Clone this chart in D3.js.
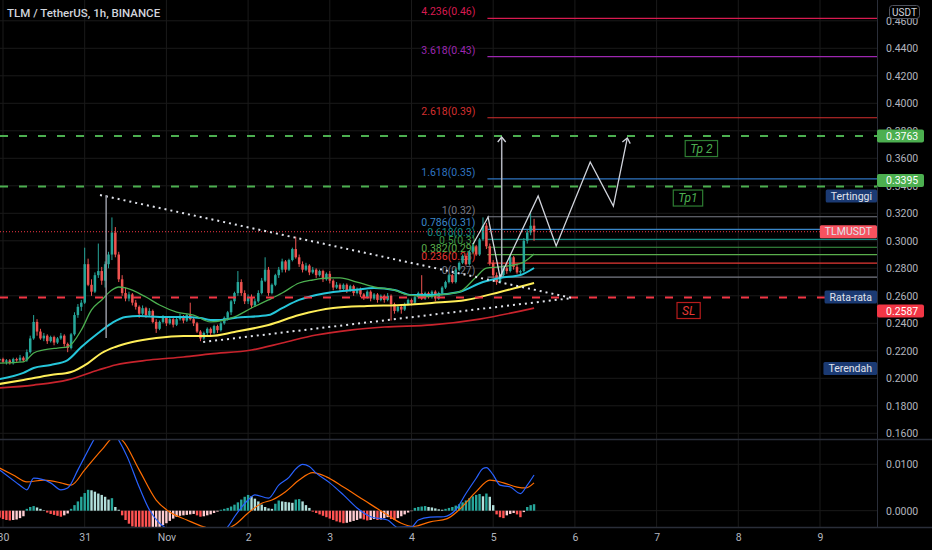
<!DOCTYPE html>
<html>
<head>
<meta charset="utf-8">
<script src="https://d3js.org/d3.v7.min.js"></script>
<style>
  body { margin: 0; background: #000; }
  svg { display: block; font-family: Roboto, "Noto Sans", sans-serif; }
</style>
</head>
<body>
<script>
// hour 0 = 30 Oct 00:00, one candle per hour
const firstHour = -1;
// [open, high, low, close]
const candles = [
  [0.213,0.215,0.211,0.214],[0.214,0.215,0.211,0.212],[0.212,0.214,0.210,0.213],[0.213,0.214,0.210,0.211],
  [0.211,0.215,0.210,0.214],[0.214,0.215,0.212,0.213],[0.213,0.217,0.212,0.215],[0.215,0.216,0.212,0.213],
  [0.213,0.221,0.212,0.219],[0.219,0.231,0.218,0.229],[0.229,0.246,0.228,0.241],[0.241,0.243,0.231,0.234],
  [0.234,0.236,0.228,0.229],[0.229,0.233,0.227,0.231],[0.231,0.232,0.225,0.227],[0.227,0.231,0.226,0.230],
  [0.230,0.231,0.224,0.226],[0.226,0.230,0.225,0.229],[0.229,0.233,0.228,0.231],[0.231,0.232,0.223,0.225],
  [0.225,0.226,0.219,0.222],[0.222,0.233,0.221,0.232],[0.232,0.248,0.231,0.246],[0.246,0.254,0.244,0.252],
  [0.252,0.257,0.249,0.255],[0.255,0.295,0.254,0.283],[0.283,0.287,0.267,0.268],[0.268,0.272,0.260,0.263],
  [0.263,0.277,0.262,0.275],[0.275,0.298,0.273,0.278],[0.278,0.281,0.268,0.271],[0.271,0.285,0.266,0.283],
  [0.283,0.292,0.280,0.290],[0.290,0.317,0.286,0.306],[0.306,0.310,0.288,0.290],[0.290,0.292,0.270,0.272],
  [0.272,0.275,0.260,0.262],[0.262,0.266,0.256,0.258],[0.258,0.263,0.256,0.261],[0.261,0.262,0.253,0.255],
  [0.255,0.257,0.250,0.252],[0.252,0.253,0.244,0.247],[0.247,0.253,0.246,0.251],[0.251,0.252,0.244,0.246],
  [0.246,0.251,0.245,0.249],[0.249,0.250,0.240,0.241],[0.241,0.243,0.233,0.236],[0.236,0.242,0.235,0.241],
  [0.241,0.246,0.240,0.244],[0.244,0.245,0.238,0.240],[0.240,0.244,0.239,0.243],[0.243,0.244,0.237,0.239],
  [0.239,0.244,0.238,0.243],[0.243,0.247,0.242,0.245],[0.245,0.246,0.240,0.242],[0.242,0.247,0.241,0.246],
  [0.246,0.255,0.242,0.243],[0.243,0.244,0.238,0.240],[0.240,0.241,0.233,0.234],[0.234,0.235,0.227,0.229],
  [0.229,0.234,0.228,0.233],[0.233,0.237,0.231,0.236],[0.236,0.237,0.231,0.233],[0.233,0.239,0.232,0.238],
  [0.238,0.239,0.233,0.235],[0.235,0.241,0.234,0.240],[0.240,0.245,0.239,0.244],[0.244,0.249,0.242,0.248],
  [0.248,0.257,0.246,0.256],[0.256,0.263,0.254,0.262],[0.262,0.278,0.260,0.270],[0.270,0.272,0.260,0.262],
  [0.262,0.264,0.254,0.256],[0.256,0.261,0.254,0.259],[0.259,0.261,0.251,0.253],[0.253,0.258,0.252,0.256],
  [0.256,0.264,0.255,0.262],[0.262,0.273,0.261,0.271],[0.271,0.288,0.270,0.279],[0.279,0.281,0.260,0.262],
  [0.262,0.269,0.261,0.268],[0.268,0.276,0.267,0.275],[0.275,0.281,0.273,0.279],[0.279,0.287,0.277,0.285],
  [0.285,0.286,0.277,0.279],[0.279,0.287,0.278,0.286],[0.286,0.295,0.285,0.294],[0.294,0.303,0.287,0.288],
  [0.288,0.290,0.281,0.283],[0.283,0.285,0.277,0.279],[0.279,0.284,0.278,0.282],[0.282,0.283,0.275,0.277],
  [0.277,0.281,0.276,0.279],[0.279,0.280,0.273,0.275],[0.275,0.279,0.274,0.278],[0.278,0.279,0.270,0.272],
  [0.272,0.277,0.271,0.276],[0.276,0.278,0.269,0.271],[0.271,0.272,0.264,0.266],[0.266,0.270,0.265,0.268],
  [0.268,0.269,0.263,0.265],[0.265,0.269,0.264,0.268],[0.268,0.269,0.262,0.264],[0.264,0.268,0.263,0.267],
  [0.267,0.268,0.260,0.262],[0.262,0.266,0.261,0.265],[0.265,0.266,0.259,0.261],[0.261,0.262,0.257,0.259],
  [0.259,0.264,0.258,0.263],[0.263,0.264,0.256,0.258],[0.258,0.262,0.257,0.261],[0.261,0.262,0.255,0.257],
  [0.257,0.261,0.256,0.260],[0.260,0.261,0.255,0.257],[0.257,0.262,0.256,0.260],[0.260,0.261,0.242,0.254],
  [0.254,0.255,0.247,0.249],[0.249,0.253,0.248,0.252],[0.252,0.253,0.247,0.250],[0.250,0.255,0.249,0.254],
  [0.254,0.258,0.253,0.257],[0.257,0.258,0.253,0.255],[0.255,0.260,0.254,0.259],[0.259,0.263,0.258,0.262],
  [0.262,0.275,0.257,0.258],[0.258,0.263,0.257,0.262],[0.262,0.263,0.258,0.259],[0.259,0.264,0.258,0.263],
  [0.263,0.264,0.256,0.258],[0.258,0.263,0.257,0.262],[0.262,0.267,0.261,0.266],[0.266,0.271,0.265,0.270],
  [0.270,0.276,0.269,0.275],[0.275,0.276,0.269,0.270],[0.270,0.280,0.269,0.279],[0.279,0.285,0.278,0.284],
  [0.284,0.290,0.283,0.289],[0.289,0.290,0.282,0.283],[0.283,0.293,0.282,0.292],[0.292,0.298,0.291,0.296],
  [0.296,0.297,0.289,0.290],[0.290,0.302,0.289,0.301],[0.301,0.317,0.300,0.311],[0.311,0.313,0.294,0.296],
  [0.296,0.298,0.282,0.284],[0.284,0.286,0.273,0.275],[0.275,0.277,0.268,0.270],[0.270,0.276,0.269,0.275],
  [0.275,0.282,0.273,0.280],[0.280,0.284,0.276,0.278],[0.278,0.290,0.277,0.288],[0.288,0.289,0.279,0.281],
  [0.281,0.283,0.276,0.277],[0.277,0.279,0.275,0.278],[0.278,0.302,0.277,0.300],[0.300,0.308,0.298,0.306],
  [0.306,0.320,0.304,0.311],[0.311,0.316,0.300,0.3066]
];

// moving averages: [hour, price]
const ma20 = [[-1,0.2111],[6,0.2119],[9,0.2184],[12,0.2206],[16,0.2220],[19,0.2228],[23,0.2351],[26,0.2497],
  [29,0.2570],[32,0.2642],[34,0.2664],[36,0.2657],[42,0.2591],[46,0.2533],[51,0.2482],[56,0.2460],[61,0.2410],
  [68,0.2446],[73,0.2511],[78,0.2570],[82,0.2620],[87,0.2693],[91,0.2715],[96,0.2730],[99,0.2730],[104,0.2700],
  [109,0.2664],[115,0.2642],[119,0.2606],[125,0.2595],[128,0.2606],[134,0.2628],[139,0.2737],[142,0.2802],
  [146,0.2810],[150,0.2824],[153,0.2846],[156,0.2904]];
const ma50 = [[-1,0.1995],[6,0.2039],[9,0.2075],[14,0.2097],[19,0.2133],[23,0.2228],[28,0.2330],[32,0.2402],
  [36,0.2446],[40,0.2453],[46,0.2446],[53,0.2446],[58,0.2439],[61,0.2424],[64,0.2424],[68,0.2439],[78,0.2460],
  [82,0.2511],[87,0.2570],[92,0.2606],[97,0.2628],[103,0.2642],[109,0.2657],[115,0.2642],[120,0.2606],
  [126,0.2606],[134,0.2628],[141,0.2700],[146,0.2730],[152,0.2751],[156,0.2802]];
const ma100 = [[-1,0.1959],[6,0.1988],[14,0.2024],[20,0.2046],[25,0.2111],[29,0.2184],[33,0.2228],[38,0.2264],
  [45,0.2293],[53,0.2308],[61,0.2308],[68,0.2337],[78,0.2388],[87,0.2460],[97,0.2511],[107,0.2526],[117,0.2533],
  [126,0.2548],[136,0.2570],[146,0.2628],[156,0.2693]];
const ma200 = [[-1,0.1930],[9,0.1951],[19,0.1988],[28,0.2060],[33,0.2097],[43,0.2133],[53,0.2155],[61,0.2177],
  [73,0.2206],[82,0.2257],[92,0.2315],[102,0.2351],[112,0.2373],[126,0.2388],[140,0.2431],[156,0.2511]];

// MACD pane
const macdHist = [
  -0.0015,-0.0018,-0.0020,-0.0021,-0.0020,-0.0019,-0.0016,-0.0012,
  0.0004,0.0008,0.0010,0.0007,0.0004,0.0001,
  -0.0004,-0.0007,-0.0009,-0.0011,-0.0013,-0.0010,-0.0006,
  0.0004,0.0012,0.0020,0.0030,0.0038,0.0045,0.0044,0.0041,0.0037,0.0034,0.0030,0.0024,0.0027,0.0008,0.0002,
  -0.0010,-0.0020,-0.0028,-0.0034,-0.0037,-0.0039,-0.0040,-0.0041,-0.0042,
  -0.0040,-0.0038,-0.0035,-0.0031,-0.0027,-0.0022,-0.0017,-0.0013,-0.0011,-0.0010,-0.0009,-0.0008,-0.0007,
  -0.0010,-0.0013,-0.0012,-0.0010,-0.0008,-0.0005,-0.0002,
  0.0002,0.0004,0.0006,0.0009,0.0013,0.0018,0.0024,0.0030,0.0034,
  0.0031,0.0026,0.0020,0.0013,0.0008,0.0005,0.0004,
  0.0015,0.0022,0.0020,0.0019,0.0018,0.0017,0.0024,0.0025,0.0020,0.0012,0.0006,
  -0.0002,-0.0005,-0.0008,-0.0011,-0.0014,-0.0017,-0.0020,-0.0023,-0.0025,-0.0027,
  -0.0026,-0.0024,-0.0022,-0.0020,-0.0017,-0.0019,-0.0021,-0.0020,-0.0018,-0.0020,-0.0019,-0.0016,-0.0014,
  -0.0018,-0.0020,-0.0016,-0.0012,-0.0008,-0.0004,-0.0001,
  0.0006,0.0008,0.0009,0.0010,0.0008,0.0007,0.0005,0.0003,0.0002,
  0.0004,0.0006,0.0008,0.0011,0.0014,0.0018,0.0022,0.0027,0.0031,0.0034,0.0036,0.0031,0.0037,0.0030,0.0012,
  -0.0008,-0.0014,-0.0016,-0.0010,-0.0007,-0.0005,-0.0008,-0.0014,-0.0003,0.0008,0.0012,0.0014
];
const macdLine = [[-1,0.0088],[4,0.0060],[6,0.0049],[7,0.0045],[9,0.0070],[14,0.0060],[17,0.0045],[19,0.0049],
  [22,0.0088],[24,0.0116],[27,0.0157],[30,0.0190],[34,0.0152],[36.5,0.0116],[40,0.0051],[43,0.0002],[46,-0.0027],
  [48,-0.0038],[53,-0.0052],[58,-0.0056],[63,-0.0048],[66,-0.0035],[68,-0.0013],[72,0.0023],[74,0.0034],
  [78,0.0027],[81,0.0055],[84,0.0072],[86,0.0090],[88,0.0100],[90,0.0095],[92,0.0081],[96,0.0060],[100,0.0034],
  [104,0.0006],[108,-0.0013],[113,-0.0020],[116,-0.0036],[120,-0.0035],[122,-0.0020],[125.5,-0.0014],
  [129.5,-0.0013],[133,0.0002],[136,0.0037],[139,0.0070],[141,0.0091],[142,0.0093],[144,0.0077],[146,0.0055],
  [149,0.0051],[152,0.0037],[154,0.0055],[156,0.0077]];
const signalLine = [[-1,0.0092],[3,0.0077],[7,0.0062],[12,0.0066],[17,0.0060],[20,0.0055],[24,0.0088],
  [29,0.0131],[33,0.0160],[35,0.0152],[40,0.0088],[45,0.0023],[49,-0.0003],[54,-0.0020],[59,-0.0035],
  [64,-0.0042],[68,-0.0031],[72,-0.0005],[76,0.0016],[79,0.0023],[83,0.0041],[87,0.0066],[91,0.0082],
  [95,0.0073],[100,0.0051],[106,0.0023],[112,-0.0005],[117,-0.0027],[120.5,-0.0034],[125.5,-0.0024],
  [130.5,-0.0017],[134,0.0002],[139,0.0041],[143,0.0066],[147,0.0060],[151,0.0051],[153.5,0.0049],[156,0.0060]];

// fibonacci drawing
const fibStartHour = 142.3;
const fibLabels = ['4.236(0.46)','3.618(0.43)','2.618(0.39)','1.618(0.35)','1(0.32)','0.786(0.31)',
  '0.618(0.3)','0.5(0.3)','0.382(0.29)','0.236(0.28)','0(0.27)'];
const fibPrices = [0.4618,0.4339,0.3895,0.3450,0.3175,0.3083,0.3011,0.2953,0.2899,0.2837,0.2736];

// horizontal target / stop levels
const tpLevels = [0.3763, 0.3395];
const slLevel = 0.2587;
const lastPrice = 0.3066;

// other drawings: [hour, price]
const upperTrend = [[28.5,0.3333],[167.2,0.2584]];
const lowerTrend = [[58.8,0.2264],[167.2,0.2584]];
const spikeLine = [[30.3,0.3333],[30.3,0.2293]];
const zigzag = [[138.1,0.2977],[142.5,0.3173],[146.0,0.2737],[157.2,0.3326],[162.5,0.2962],
  [172.5,0.3573],[179.3,0.3253],[183.4,0.3748]];
const tpArrow = [[146.5,0.2737],[146.5,0.3755]];
const noteTexts = ['Tp 2','Tp1','SL'];
const noteHours = [200.4,196.9,198.0];
const notePrices = [0.3671,0.3311,0.2493];

// axis labels
const priceTicks = [0.46,0.44,0.42,0.40,0.38,0.36,0.34,0.32,0.30,0.28,0.26,0.24,0.22,0.20,0.18,0.16];
const macdTicks = [0.01, 0];
const dayHours = [0,24,48,72,96,120,144,168,192,216,240];
const dayLabels = ['30','31','Nov','2','3','4','5','6','7','8','9'];
const sideTags = ['Tertinggi','Rata-rata','Terendah'];
const sideTagPrices = [0.3326,0.2591,0.2071];

const W = 932, H = 550;
const axisX = 877;
const mainBottom = 439, macdTop = 440, macdBottom = 527;
const grid = '#1a1a1a', textCol = '#b2b5be';
const upCol = '#26a69a', downCol = '#ef5350';
const fibColors = ['#d81b50','#9c27b0','#d32f2f','#2f74c0','#787b86','#3a86c8','#138a84','#3e9b47','#5aae4c','#e53935','#787b86'];
const noteColors = ['#4caf50','#4caf50','#e53935'];
const noteBorders = ['#2e7d32','#2e7d32','#b71c1c'];

const x = d3.scaleLinear().domain([0, 240]).range([3, 820]);
const y = d3.scaleLinear().domain([0.16, 0.46]).range([433.3, 20.8]);
const ym = d3.scaleLinear().domain([0, 0.01]).range([510.7, 464.3]);

const svg = d3.select('body').append('svg').attr('width', W).attr('height', H);
svg.append('rect').attr('width', W).attr('height', H).attr('fill', '#000');

const defs = svg.append('defs');
defs.append('clipPath').attr('id', 'mainClip').append('rect')
  .attr('x', 0).attr('y', 0).attr('width', axisX).attr('height', mainBottom);
defs.append('clipPath').attr('id', 'macdClip').append('rect')
  .attr('x', 0).attr('y', macdTop).attr('width', axisX).attr('height', macdBottom - macdTop);
defs.append('marker').attr('id', 'arrowHead')
  .attr('viewBox', '-6 -6 12 12').attr('markerUnits', 'userSpaceOnUse')
  .attr('markerWidth', 12).attr('markerHeight', 12).attr('orient', 'auto')
  .append('path').attr('d', 'M-5,-4L0,0L-5,4').attr('fill', 'none')
  .attr('stroke', '#d1d4dc').attr('stroke-width', 1.3);

// grid
const gGrid = svg.append('g');
gGrid.selectAll('.vg').data(dayHours).join('line')
  .attr('x1', d => x(d)).attr('x2', d => x(d)).attr('y1', 0).attr('y2', macdBottom)
  .attr('stroke', grid);
gGrid.selectAll('.hg').data(priceTicks).join('line')
  .attr('x1', 0).attr('x2', axisX).attr('y1', d => y(d)).attr('y2', d => y(d))
  .attr('stroke', grid);
gGrid.selectAll('.mg').data(macdTicks).join('line')
  .attr('x1', 0).attr('x2', axisX).attr('y1', d => ym(d)).attr('y2', d => ym(d))
  .attr('stroke', grid);

const main = svg.append('g').attr('clip-path', 'url(#mainClip)');

// fibonacci levels and labels (sit under the candles)
fibPrices.forEach((p, i) => {
  main.append('line').attr('x1', x(fibStartHour)).attr('x2', axisX)
    .attr('y1', y(p)).attr('y2', y(p)).attr('stroke', fibColors[i]).attr('stroke-width', 1.2);
  main.append('text').attr('x', x(fibStartHour) - 12).attr('y', y(p) - 3)
    .attr('text-anchor', 'end').attr('font-size', 10.5).attr('fill', fibColors[i]).text(fibLabels[i]);
});

// candles
const cData = candles.map((c, i) => ({ h: firstHour + i, o: c[0], hi: c[1], lo: c[2], c: c[3] }));
const gC = main.append('g');
gC.selectAll('line').data(cData).join('line')
  .attr('x1', d => x(d.h)).attr('x2', d => x(d.h))
  .attr('y1', d => y(d.hi)).attr('y2', d => y(d.lo))
  .attr('stroke', d => d.c >= d.o ? upCol : downCol).attr('stroke-width', 1);
gC.selectAll('rect').data(cData).join('rect')
  .attr('x', d => x(d.h) - 1.25).attr('width', 2.5)
  .attr('y', d => y(Math.max(d.o, d.c)))
  .attr('height', d => Math.max(1, Math.abs(y(d.o) - y(d.c))))
  .attr('fill', d => d.c >= d.o ? upCol : downCol);

// moving averages
const priceLine = d3.line().x(d => x(d[0])).y(d => y(d[1])).curve(d3.curveMonotoneX);
[[ma200, '#c8232c', 1.7], [ma100, '#ffee58', 2], [ma50, '#26c6da', 2], [ma20, '#4caf50', 1.3]]
  .forEach(([data, col, w]) => {
    main.append('path').datum(data).attr('d', priceLine)
      .attr('fill', 'none').attr('stroke', col).attr('stroke-width', w);
  });

// target / stop dashed lines
const straight = d3.line().x(d => x(d[0])).y(d => y(d[1]));
tpLevels.forEach(p => {
  main.append('line').attr('x1', 0).attr('x2', axisX).attr('y1', y(p)).attr('y2', y(p))
    .attr('stroke', '#4caf50').attr('stroke-width', 2).attr('stroke-dasharray', '8,11');
});
main.append('line').attr('x1', 0).attr('x2', axisX).attr('y1', y(slLevel)).attr('y2', y(slLevel))
  .attr('stroke', '#f23645').attr('stroke-width', 2).attr('stroke-dasharray', '8,11');

// current price line
main.append('line').attr('x1', 0).attr('x2', axisX).attr('y1', y(lastPrice)).attr('y2', y(lastPrice))
  .attr('stroke', '#f23645').attr('stroke-width', 1).attr('stroke-dasharray', '1,2');

// trend lines and projection
[upperTrend, lowerTrend].forEach(t => {
  main.append('path').datum(t).attr('d', straight).attr('fill', 'none')
    .attr('stroke', '#e0e3eb').attr('stroke-width', 2).attr('stroke-dasharray', '2,4');
});
main.append('path').datum(spikeLine).attr('d', straight)
  .attr('stroke', '#9598a1').attr('stroke-width', 1.5);
main.append('path').datum(tpArrow).attr('d', straight).attr('fill', 'none')
  .attr('stroke', '#b2b5be').attr('stroke-width', 1.5).attr('marker-end', 'url(#arrowHead)');
main.append('path').datum(zigzag).attr('d', straight).attr('fill', 'none')
  .attr('stroke', '#d1d4dc').attr('stroke-width', 1.3).attr('marker-end', 'url(#arrowHead)');

// Tp / SL notes
noteTexts.forEach((t, i) => {
  const g = main.append('g');
  const r = g.append('rect');
  const tx = g.append('text').attr('x', x(noteHours[i]) + 5).attr('y', y(notePrices[i]))
    .attr('dy', '0.36em').attr('font-size', 12).attr('font-style', 'italic')
    .attr('fill', noteColors[i]).text(t);
  const w = tx.node().getComputedTextLength() + 10;
  r.attr('x', x(noteHours[i])).attr('y', y(notePrices[i]) - 8).attr('width', w).attr('height', 16)
    .attr('fill', '#000').attr('stroke', noteBorders[i]).attr('stroke-width', 1.2);
});

// MACD pane
const macd = svg.append('g').attr('clip-path', 'url(#macdClip)');
const hData = macdHist.map((v, i) => ({ h: firstHour + i, v, prev: i > 0 ? macdHist[i - 1] : v }));
macd.selectAll('rect').data(hData).join('rect')
  .attr('x', d => x(d.h) - 1.2).attr('width', 2.4)
  .attr('y', d => Math.min(ym(d.v), ym(0)))
  .attr('height', d => Math.abs(ym(d.v) - ym(0)))
  .attr('fill', d => d.v >= 0 ? (d.v >= d.prev ? '#26a69a' : '#b2dfdb')
                               : (d.v <= d.prev ? '#ff5252' : '#ffcdd2'));
const mLine = d3.line().x(d => x(d[0])).y(d => ym(d[1])).curve(d3.curveMonotoneX);
macd.append('path').datum(signalLine).attr('d', mLine).attr('fill', 'none')
  .attr('stroke', '#ff6d00').attr('stroke-width', 1.2);
macd.append('path').datum(macdLine).attr('d', mLine).attr('fill', 'none')
  .attr('stroke', '#2962ff').attr('stroke-width', 1.2);

// pane borders
svg.append('line').attr('x1', axisX + 0.5).attr('x2', axisX + 0.5).attr('y1', 0).attr('y2', macdBottom)
  .attr('stroke', '#2a2e39');
[mainBottom + 0.5, macdBottom + 0.5].forEach(v => {
  svg.append('line').attr('x1', 0).attr('x2', W).attr('y1', v).attr('y2', v)
    .attr('stroke', '#2a2e39').attr('stroke-width', 1.5);
});

// price axis
const pAxis = svg.append('g').attr('transform', `translate(${axisX},0)`)
  .call(d3.axisRight(y).tickValues(priceTicks).tickFormat(d3.format('.4f')).tickSize(0).tickPadding(9));
const mAxis = svg.append('g').attr('transform', `translate(${axisX},0)`)
  .call(d3.axisRight(ym).tickValues(macdTicks).tickFormat(d3.format('.4f')).tickSize(0).tickPadding(9));
const tAxis = svg.append('g').attr('transform', `translate(0,${macdBottom})`)
  .call(d3.axisBottom(x).tickValues(dayHours).tickFormat((d, i) => dayLabels[i]).tickSize(0).tickPadding(7));
[pAxis, mAxis, tAxis].forEach(a => {
  a.select('.domain').remove();
  a.selectAll('text').attr('fill', textCol).attr('font-size', 10.5)
    .attr('font-family', 'Roboto, "Noto Sans", sans-serif');
});

// axis badges
function axisBadge(price, cy, fill) {
  svg.append('rect').attr('x', axisX).attr('y', cy - 6.5).attr('width', 47).attr('height', 13)
    .attr('rx', 2).attr('fill', fill);
  svg.append('text').attr('x', axisX + 9).attr('y', cy).attr('dy', '0.35em')
    .attr('font-size', 10.5).attr('fill', '#fff').text(d3.format('.4f')(price));
}
axisBadge(tpLevels[0], y(tpLevels[0]), '#4caf50');
axisBadge(tpLevels[1], y(tpLevels[1]) - 6, '#4caf50');
axisBadge(slLevel, y(slLevel) + 13.5, '#f23645');

function sideTag(label, cy, fill) {
  const r = svg.append('rect');
  const t = svg.append('text').attr('x', axisX - 5).attr('y', cy).attr('dy', '0.35em')
    .attr('text-anchor', 'end').attr('font-size', 10.5).attr('fill', '#e0e3eb').text(label);
  const w = t.node().getComputedTextLength() + 10;
  r.attr('x', axisX - w).attr('y', cy - 6.5).attr('width', w).attr('height', 13)
    .attr('rx', 1.5).attr('fill', fill);
}
sideTags.forEach((t, i) => sideTag(t, y(sideTagPrices[i]), '#1b3a73'));
sideTag('TLMUSDT', y(lastPrice), '#f7525f');

// currency box
svg.append('rect').attr('x', 889.5).attr('y', 5.5).attr('width', 30).attr('height', 13)
  .attr('rx', 3).attr('fill', '#000').attr('stroke', '#50535e');
svg.append('text').attr('x', 904.5).attr('y', 12).attr('dy', '0.35em').attr('text-anchor', 'middle')
  .attr('font-size', 10).attr('fill', '#d1d4dc').text('USDT');

// title
svg.append('text').attr('x', 7).attr('y', 13).attr('dy', '0.35em')
  .attr('font-size', 11.5).attr('font-weight', 500).attr('fill', '#d1d4dc')
  .text('TLM / TetherUS, 1h, BINANCE');
</script>
</body>
</html>
